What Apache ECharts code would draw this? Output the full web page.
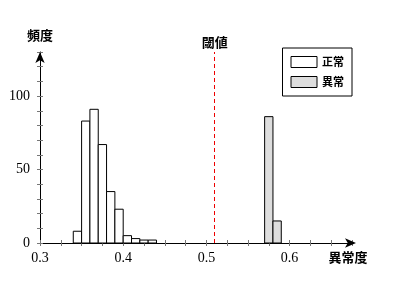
<!DOCTYPE html>
<html><head><meta charset="utf-8">
<script src="https://cdn.jsdelivr.net/npm/echarts@6/dist/echarts.min.js"></script>
<style>html,body{margin:0;padding:0;background:#fff}#c{width:400px;height:300px}</style>
</head><body><div id="c"></div>
<script>
const binWidth = 0.01;
const normalBins = [0.34,0.35,0.36,0.37,0.38,0.39,0.40,0.41,0.42,0.43];
const normalCounts = [8,83,91,67,35,23,5,3,2,2];
const anomalyBins = [0.57,0.58];
const anomalyCounts = [86,15];
const threshold = 0.506;
const xTickLabels = [0.3,0.4,0.5,0.6];
const yTickLabels = [0,50,100];

const jp = 'Noto Sans CJK JP';
const serif = 'Liberation Serif';

function barRender(fill){
  return function(params, api){
    const x0 = api.value(0), h = api.value(1);
    const p0 = api.coord([x0, h]);
    const p1 = api.coord([x0 + binWidth, 0]);
    return {type:'rect', shape:{x:p0[0], y:p0[1], width:p1[0]-p0[0], height:p1[1]-p0[1]},
      style:{fill:fill, stroke:'#000', lineWidth:1}};
  };
}

const chart = echarts.init(document.getElementById('c'), null, {renderer:'canvas'});
chart.setOption({
  animation:false,
  grid:{left:40, right:48, top:52, bottom:57, containLabel:false},
  xAxis:[{type:'value', min:0.3, max:0.675, interval:0.025,
    name:'異常度', nameLocation:'end', nameGap:-4,
    nameTextStyle:{fontFamily:jp, fontSize:13, fontWeight:'bold', color:'#000', align:'center', verticalAlign:'top', padding:[8,0,0,0]},
    axisLine:{show:true, onZero:false, lineStyle:{color:'#000', width:1}, symbol:['none','arrow'], symbolSize:[7,11], symbolOffset:[0,4]},
    axisTick:{show:true, length:3, inside:false, lineStyle:{color:'#777'}},
    splitLine:{show:false},
    axisLabel:{fontFamily:serif, fontSize:14, color:'#000', margin:8,
      formatter:function(v){ const r=Math.round(v*1000)/1000; return xTickLabels.some(t=>Math.abs(t-r)<1e-6) ? r.toFixed(1) : ''; }}
  },{type:'value', min:0.3, max:0.675, interval:0.025, position:'bottom',
    axisLine:{show:false, onZero:false}, axisTick:{show:true, inside:true, length:3, lineStyle:{color:'#777'}},
    axisLabel:{show:false}, splitLine:{show:false}}],
  yAxis:[{type:'value', min:0, max:130, interval:10,
    name:'頻度', nameLocation:'end', nameGap:10,
    nameTextStyle:{fontFamily:jp, fontSize:13, fontWeight:'bold', color:'#000'},
    axisLine:{show:true, lineStyle:{color:'#000', width:1}, symbol:['none','arrow'], symbolSize:[7,11]},
    axisTick:{show:true, length:3, lineStyle:{color:'#777'}},
    splitLine:{show:false},
    axisLabel:{fontFamily:serif, fontSize:14, color:'#000', margin:10,
      formatter:function(v){ return yTickLabels.indexOf(v)>=0 ? String(v) : ''; }}
  },{type:'value', min:0, max:130, interval:10, position:'left',
    axisLine:{show:false, onZero:false}, axisTick:{show:true, inside:true, length:3, lineStyle:{color:'#777'}},
    axisLabel:{show:false}, splitLine:{show:false}}],
  legend:{orient:'vertical', right:48, top:48, padding:[8,8,8,8], itemGap:8,
    itemWidth:26, itemHeight:11, borderColor:'#000', borderWidth:1, backgroundColor:'#fff',
    textStyle:{fontFamily:jp, fontSize:11, fontWeight:'bold', color:'#000'},
    data:[{name:'正常', icon:'rect', itemStyle:{color:'#fff', borderColor:'#000', borderWidth:1}},
          {name:'異常', icon:'rect', itemStyle:{color:'#ddd', borderColor:'#000', borderWidth:1}}]
  },
  series:[
    {name:'正常', type:'custom', renderItem:barRender('#fff'), encode:{x:0,y:1},
      itemStyle:{color:'#fff', borderColor:'#000'},
      data:normalBins.map((b,i)=>[b, normalCounts[i]]),
      markLine:{silent:true, symbol:['none','none'],
        lineStyle:{color:'#e00', type:[4,3], width:1},
        label:{show:true, position:'end', formatter:'閾値', fontFamily:jp, fontSize:13, fontWeight:'bold', color:'#000', distance:3},
        data:[{xAxis:threshold}]}
    },
    {name:'異常', type:'custom', renderItem:barRender('#ddd'), encode:{x:0,y:1},
      itemStyle:{color:'#ddd', borderColor:'#000'},
      data:anomalyBins.map((b,i)=>[b, anomalyCounts[i]])}
  ]
});
</script></body></html>
